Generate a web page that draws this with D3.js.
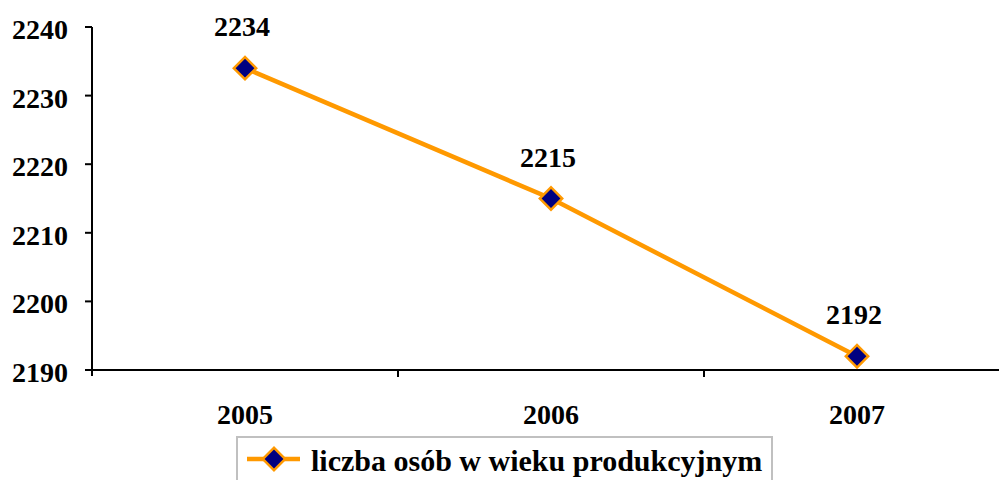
<!DOCTYPE html>
<html>
<head>
<meta charset="utf-8">
<script src="https://d3js.org/d3.v7.min.js"></script>
<style>
  body { margin: 0; background: #fff; }
</style>
</head>
<body>
<div id="chart"></div>
<script>
// data
var years = ["2005", "2006", "2007"];
var values = [2234, 2215, 2192];
var yTicks = [2190, 2200, 2210, 2220, 2230, 2240];
var seriesName = "liczba osób w wieku produkcyjnym";

var W = 999, H = 480;
var FONT = "'Liberation Serif', 'DejaVu Serif', serif";

var svg = d3.select("#chart").append("svg")
    .attr("width", W)
    .attr("height", H)
    .attr("font-family", FONT)
    .attr("font-weight", "bold");

var x = d3.scaleBand()
    .domain(years)
    .range([92, 1010]);

var y = d3.scaleLinear()
    .domain([2190, 2240])
    .range([370, 27]);

// y axis
svg.append("line")
    .attr("x1", 92).attr("x2", 92)
    .attr("y1", y(2240)).attr("y2", y(2190) + 6)
    .attr("stroke", "#000").attr("stroke-width", 2);

svg.selectAll(".ytick").data(yTicks).enter().append("line")
    .attr("x1", 85).attr("x2", 92)
    .attr("y1", function (d) { return y(d); })
    .attr("y2", function (d) { return y(d); })
    .attr("stroke", "#000").attr("stroke-width", 2);

svg.selectAll(".ylab").data(yTicks).enter().append("text")
    .attr("x", 68)
    .attr("y", function (d) { return y(d) + 12; })
    .attr("text-anchor", "end")
    .attr("font-size", 28)
    .text(function (d) { return d; });

// x axis
svg.append("line")
    .attr("x1", 85).attr("x2", W)
    .attr("y1", y(2190)).attr("y2", y(2190))
    .attr("stroke", "#000").attr("stroke-width", 2);

svg.selectAll(".xtick").data(years.slice(1)).enter().append("line")
    .attr("x1", function (d) { return x(d); })
    .attr("x2", function (d) { return x(d); })
    .attr("y1", y(2190)).attr("y2", y(2190) + 7)
    .attr("stroke", "#000").attr("stroke-width", 2);

svg.selectAll(".xlab").data(years).enter().append("text")
    .attr("x", function (d) { return x(d) + x.bandwidth() / 2; })
    .attr("y", 424)
    .attr("text-anchor", "middle")
    .attr("font-size", 28)
    .text(function (d) { return d; });

// line
var pts = years.map(function (d, i) { return [x(d) + x.bandwidth() / 2, y(values[i])]; });

svg.append("path")
    .attr("d", d3.line()(pts))
    .attr("fill", "none")
    .attr("stroke", "#FF9900")
    .attr("stroke-width", 4.5);

var diamond = d3.symbol().type(d3.symbolSquare).size(250);

svg.selectAll(".pt").data(pts).enter().append("path")
    .attr("d", diamond)
    .attr("transform", function (d) { return "translate(" + d[0] + "," + d[1] + ") rotate(45)"; })
    .attr("fill", "#000080")
    .attr("stroke", "#FF9900")
    .attr("stroke-width", 2.5);

svg.selectAll(".vlab").data(pts).enter().append("text")
    .attr("x", function (d) { return d[0] - 3; })
    .attr("y", function (d) { return d[1] - 32; })
    .attr("text-anchor", "middle")
    .attr("font-size", 28)
    .text(function (d, i) { return values[i]; });

// legend
var lg = svg.append("g");
lg.append("rect")
    .attr("x", 237).attr("y", 437)
    .attr("width", 535).attr("height", 60)
    .attr("fill", "#fff")
    .attr("stroke", "#c0c0c0")
    .attr("stroke-width", 2);
lg.append("line")
    .attr("x1", 247).attr("x2", 300)
    .attr("y1", 459).attr("y2", 459)
    .attr("stroke", "#FF9900").attr("stroke-width", 4.5);
lg.append("path")
    .attr("d", diamond)
    .attr("transform", "translate(274,459) rotate(45)")
    .attr("fill", "#000080")
    .attr("stroke", "#FF9900")
    .attr("stroke-width", 2.5);
lg.append("text")
    .attr("x", 311).attr("y", 471)
    .attr("font-size", 30)
    .text(seriesName);
</script>
</body>
</html>
